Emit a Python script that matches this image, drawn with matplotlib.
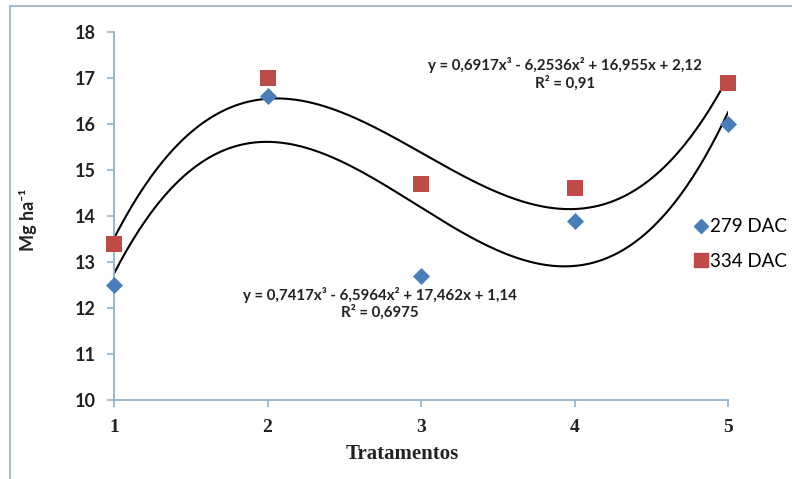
import numpy as np
import matplotlib
matplotlib.use("Agg")
import matplotlib.pyplot as plt
from matplotlib.lines import Line2D

plt.rcParams['font.family'] = ['Lato', 'DejaVu Sans']

tratamentos = [1, 2, 3, 4, 5]
dac279 = [12.5, 16.6, 12.7, 13.9, 16.0]
dac334 = [13.4, 17.0, 14.7, 14.6, 16.9]
coef279 = [0.7417, -6.5964, 17.462, 1.14]
coef334 = [0.6917, -6.2536, 16.955, 2.12]
eq279 = "y = 0,7417x³ - 6,5964x² + 17,462x + 1,14\nR² = 0,6975"
eq334 = "y = 0,6917x³ - 6,2536x² + 16,955x + 2,12\nR² = 0,91"
labels = ["279 DAC", "334 DAC"]
yticks = list(range(10, 19))

W, H = 792, 479
fig = plt.figure(figsize=(W/100, H/100), dpi=100)
ax = fig.add_axes([114/W, 1-400/H, (728-114)/W, (400-32)/H])

xs = np.linspace(1, 5, 300)
ax.plot(xs, np.polyval(coef334, xs), color='black', lw=1.5, zorder=2)
ax.plot(xs, np.polyval(coef279, xs), color='black', lw=1.5, zorder=2)
ax.scatter(tratamentos, dac279, marker='D', s=75, color='#4a7ebb', zorder=3, clip_on=False, linewidths=0)
ax.scatter(tratamentos, dac334, marker='s', s=130, color='#be4b48', zorder=3, clip_on=False, linewidths=0)

ax.set_xlim(1, 5)
ax.set_ylim(10, 18)
ax.set_xticks(tratamentos)
ax.set_yticks(yticks)
for s in ['top', 'right']:
    ax.spines[s].set_visible(False)
for s in ['left', 'bottom']:
    ax.spines[s].set_color('#8db3d0')
    ax.spines[s].set_linewidth(1.3)
ax.tick_params(axis='both', colors='#8db3d0', length=5, width=1.2, labelcolor='#222222')
ax.tick_params(axis='y', labelsize=13, pad=8)
ax.tick_params(axis='x', labelsize=14, pad=9)
for t in ax.get_yticklabels():
    t.set_fontweight('bold')
for t in ax.get_xticklabels():
    t.set_fontweight('bold')
    t.set_family('Liberation Serif')

ax.text(3.94, 17.08, eq334, ha='center', va='center', fontsize=10.8,
        fontweight='bold', color='#222222', linespacing=1.2)
ax.text(2.73, 12.1, eq279, ha='center', va='center', fontsize=10.8,
        fontweight='bold', color='#222222', linespacing=1.2)

ax.set_ylabel('Mg ha⁻¹', fontsize=13, fontweight='bold', color='#222222')
ax.yaxis.set_label_coords((37-114)/(728-114), 0.49)
fig.text(402/W, 1-454/H, 'Tratamentos', ha='center', va='center', fontsize=15,
         fontweight='bold', family='Liberation Serif', color='#222222')

handles = [Line2D([], [], marker='D', ls='none', color='#4a7ebb', markersize=7.5),
           Line2D([], [], marker='s', ls='none', color='#be4b48', markersize=10)]
leg = fig.legend(handles, labels, loc='center left', bbox_to_anchor=(688/W, 1-244/H),
                 frameon=False, fontsize=13.5, handlelength=0.6, handletextpad=0.15,
                 labelspacing=0.95, borderaxespad=0)

fig.add_artist(Line2D([10/W, 1], [1-6/H, 1-6/H], color='#a9bccb', lw=1.5))
fig.add_artist(Line2D([10/W, 10/W], [0, 1-6/H], color='#a9bccb', lw=1.5))

fig.savefig('out.png', dpi=100)
